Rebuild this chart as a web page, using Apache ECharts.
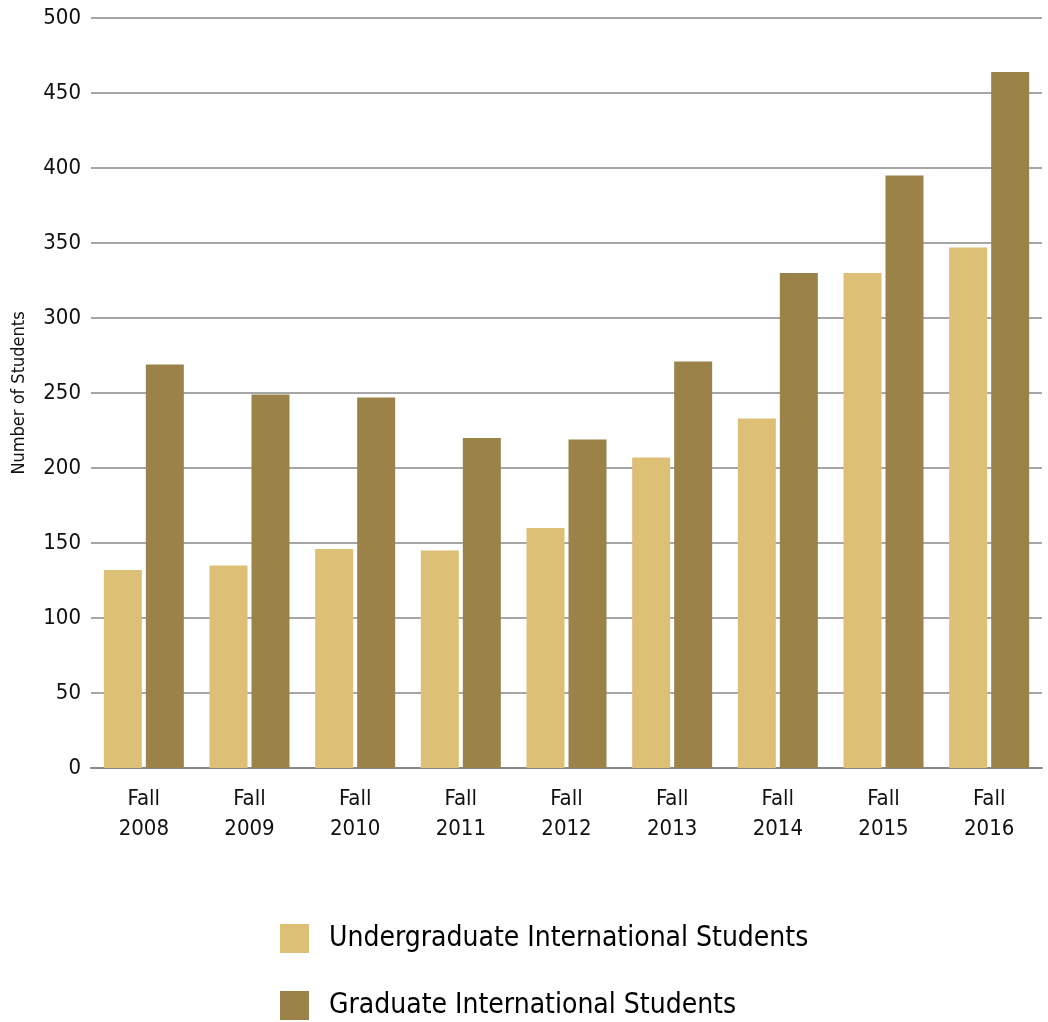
<!DOCTYPE html>
<html><head><meta charset="utf-8">
<script src="https://cdn.jsdelivr.net/npm/echarts@6/dist/echarts.min.js"></script>
<style>html,body{margin:0;padding:0;background:#fff}#c{width:1048px;height:1022px}</style>
</head><body><div id="c"></div>
<script>
const categories = ["Fall\n2008","Fall\n2009","Fall\n2010","Fall\n2011","Fall\n2012","Fall\n2013","Fall\n2014","Fall\n2015","Fall\n2016"];
const undergrad = [132,135,146,145,160,207,233,330,347];
const graduate = [269,249,247,220,219,271,330,395,464];
const seriesNames = ["Undergraduate International Students","Graduate International Students"];
const FONT = '"Liberation Sans Narrow","DejaVu Sans Condensed","Liberation Sans",sans-serif';
const chart = echarts.init(document.getElementById('c'), null, {renderer:'canvas'});
chart.setOption({
  animation:false,
  textStyle:{fontFamily:FONT},
  grid:{left:91,right:6,top:18,bottom:254,containLabel:false,outerBoundsMode:'none'},
  legend:{
    orient:'vertical', left:280, top:924, height:100, padding:0,
    itemWidth:29, itemHeight:29, itemGap:38,
    icon:'rect',
    textStyle:{fontFamily:FONT,fontSize:28,lineHeight:29,color:'#000',padding:[0,0,0,15]},
    data:seriesNames
  },
  xAxis:{
    type:'category', data:categories,
    axisLine:{lineStyle:{color:'#888',width:2}},
    axisTick:{show:false},
    axisLabel:{fontFamily:FONT,fontSize:22,color:'#111',lineHeight:30,margin:16,interval:0}
  },
  yAxis:{
    type:'value', min:0, max:500, interval:50,
    name:'Number of Students', nameLocation:'middle', nameGap:63,
    nameTextStyle:{fontFamily:FONT,fontSize:18,color:'#111'},
    axisLine:{show:false}, axisTick:{show:false},
    axisLabel:{fontFamily:FONT,fontSize:22,color:'#111',margin:10},
    splitLine:{lineStyle:{color:'#888',width:1.5}}
  },
  series:[
    {name:seriesNames[0],type:'bar',data:undergrad,barWidth:38,barGap:'10.5%',itemStyle:{color:'#DDBF76'},z:3},
    {name:seriesNames[1],type:'bar',data:graduate,barWidth:38,itemStyle:{color:'#9B8248'},z:3}
  ]
});
</script></body></html>
